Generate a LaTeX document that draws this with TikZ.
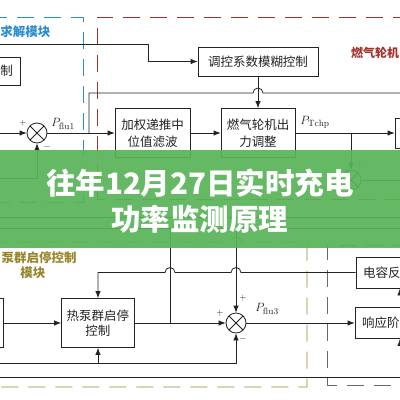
\documentclass[tikz,border=0pt]{standalone}
\usepackage{fontspec}
\newfontfamily\cjk{Noto Sans CJK SC}
\usepackage{tikz}
\usetikzlibrary{arrows.meta}
\tikzset{>={Latex[width=5.5pt,length=7pt]}}
\definecolor{wire}{RGB}{35,35,35}
\definecolor{modblue}{RGB}{45,140,205}
\definecolor{modred}{RGB}{165,50,45}
\definecolor{modolive}{RGB}{150,135,45}
\definecolor{modgray}{RGB}{105,105,105}
\definecolor{banner}{RGB}{88,180,88}
\tikzset{
  block/.style={draw=wire, line width=0.8pt, inner sep=0pt, align=center,
    font=\cjk\fontsize{12.5}{17}\selectfont},
  sum/.style={circle, draw=wire, line width=0.8pt, minimum size=20pt, inner sep=0pt,
    path picture={\draw[wire, line width=0.8pt]
      (path picture bounding box.north west) -- (path picture bounding box.south east)
      (path picture bounding box.north east) -- (path picture bounding box.south west);}},
  sgn/.style={inner sep=0pt, font=\fontsize{9}{9}\selectfont},
  sig/.style={inner sep=0pt, font=\fontsize{13}{13}\selectfont},
  modlabel/.style={inner sep=0pt, align=center, font=\cjk\bfseries\fontsize{12.5}{15}\selectfont},
  modframe/.style={line width=0.9pt, dash pattern=on 17pt off 10pt},
}

\begin{document}
\begin{tikzpicture}[x=1pt, y=-1pt, line width=0.8pt, color=wire]
    \useasboundingbox (0,0) rectangle (400,400);
    \fill[white] (0,0) rectangle (400,400);
    \clip (0,0) rectangle (400,400);

    \draw[modframe, modblue] (-10,17) -| (83,202) -- (-10,202);
    \draw[modframe, modred] (410,17) -- (97,17) |- (410,199);
    \draw[modframe, modolive] (-10,242) -- (231,242) arc[start angle=180, end angle=0, radius=5pt] -- (307,242) |- (-10,387);
    \draw[modframe, modgray] (410,245) -- (327,245) |- (410,385);

    \node[modlabel, text=modblue, anchor=west] (blue-lab) at (0,32) {求解模块};
    \node[modlabel, text=modred, anchor=east, font=\cjk\bfseries\fontsize{12}{15}\selectfont] (red-lab) at (399.5,53) {燃气轮机};
    \node[modlabel, text=modolive] (olive-lab) at (33,265.5) {\phantom{热}泵群启停控制\\模块};

    \node[block, minimum width=50pt, minimum height=28pt, text width=36pt, inner xsep=7pt, align=right] (ctrl-l) at (-5,71) {制};
    \node[block, minimum width=120pt, minimum height=29pt] (fuzzy) at (258,61.5) {调控系数模糊控制};
    \node[sum] (sum-a) at (37,133) {};
    \node[block, minimum width=75pt, minimum height=49pt] (filter) at (152.5,133) {加权递推中\\位值滤波};
    \node[block, minimum width=74pt, minimum height=49pt] (gt-out) at (258,133) {燃气轮机出\\力调整};
    \node[block, minimum width=60pt, minimum height=30pt] (r-box) at (425,133) {};
    \node[sum] (sum-b) at (351,180) {};

    \node[block, minimum width=46pt, minimum height=49pt] (l-box) at (-20,323) {};
    \node[block, minimum width=73pt, minimum height=49pt, font=\cjk\fontsize{12.5}{15}\selectfont] (hp) at (98,323) {热泵群启停\\控制};
    \node[sum] (sum-c) at (236,323) {};
    \node[block, minimum width=88pt, minimum height=31pt, text width=74pt, inner xsep=7pt, align=left] (cap) at (400,272.5) {电容反};
    \node[block, minimum width=90pt, minimum height=31pt, text width=76pt, inner xsep=7pt, align=left] (resp) at (400,323) {响应阶};

    \coordinate (in-top) at (-5,44);
    \coordinate (in-a) at (-5,133);
    \coordinate (fb-a) at (-5,178);
    \coordinate (J1) at (89,133);
    \coordinate (J2) at (351,133);
    \coordinate (out-top) at (410,93);
    \coordinate (out-b) at (410,180);

    \draw[->] (in-top) -- (148,44) |- (fuzzy.west);
    \draw[->] (fuzzy.south) -- (gt-out.north);
    \draw[->] (in-a) -- (sum-a.west);
    \draw[->] (fb-a) -| (sum-a.south);
    \draw[->] (sum-a.east) -- (filter.west);
    \draw (J1) -- (89,93) -- (253,93) arc[start angle=180, end angle=0, radius=5pt] -- (out-top);
    \draw[->] (filter.east) -- (gt-out.west);
    \draw[->] (gt-out.east) -- (r-box.west);
    \draw[->] (J2) -- (sum-b.north);
    \draw (sum-b.east) -- (out-b);

    \coordinate (bus-a) at (-5,217);
    \coordinate (bus-b) at (-5,228);
    \coordinate (J3) at (170,323);
    \coordinate (fb-c) at (-5,363);
    \coordinate (J4) at (98,363);
    \coordinate (bus-c) at (-5,377);

    \draw (bus-a) -- (410,217);
    \draw (bus-b) -- (410,228);
    \draw (170,228) -- (J3);
    \draw[->] (236,228) -- (sum-c.north);
    \draw[->] (l-box.east) -- (hp.west);
    \draw[->] (hp.east) -- (sum-c.west);
    \draw[->] (cap.west) -- (241,272.5) arc[start angle=0, end angle=180, radius=5pt]
      -- (175,272.5) arc[start angle=0, end angle=180, radius=5pt] -- (98,272.5) -- (hp.north);
    \draw[->] (fb-c) -| (sum-c.south);
    \draw[->] (J4) -- (hp.south);
    \draw[->] (sum-c.east) -- (resp.west);
    \draw (bus-c) -- (410,377);
    \draw[->] (400,302) -- (cap.south);
    \draw[->] (400,353) -- (resp.south);

    \node[sig] (p-flu1) at (63,124) {$P_{\mathrm{flu1}}$};
    \node[sig] (p-tchp) at (315,122) {$P_{\mathrm{Tchp}}$};
    \node[sig] (p-flu3) at (267,309) {$P_{\mathrm{flu3}}$};
    \node[sgn] (s-a1) at (23,123) {$+$};
    \node[sgn] (s-a2) at (47,147) {$-$};
    \node[sgn] (s-b1) at (360,164) {$+$};
    \node[sgn] (s-c1) at (243,298) {$+$};
    \node[sgn] (s-c2) at (220,313) {$+$};
    \node[sgn] (s-c3) at (243,339) {$-$};

    \fill[banner, fill opacity=0.92] (0,150) rectangle (400,248);
    \node[text=white, align=center, inner sep=0pt, font=\cjk\bfseries\fontsize{29.5}{36}\selectfont] (title) at (200,201) {往年12月27日实时充电\\功率监测原理};
\end{tikzpicture}
\end{document}
